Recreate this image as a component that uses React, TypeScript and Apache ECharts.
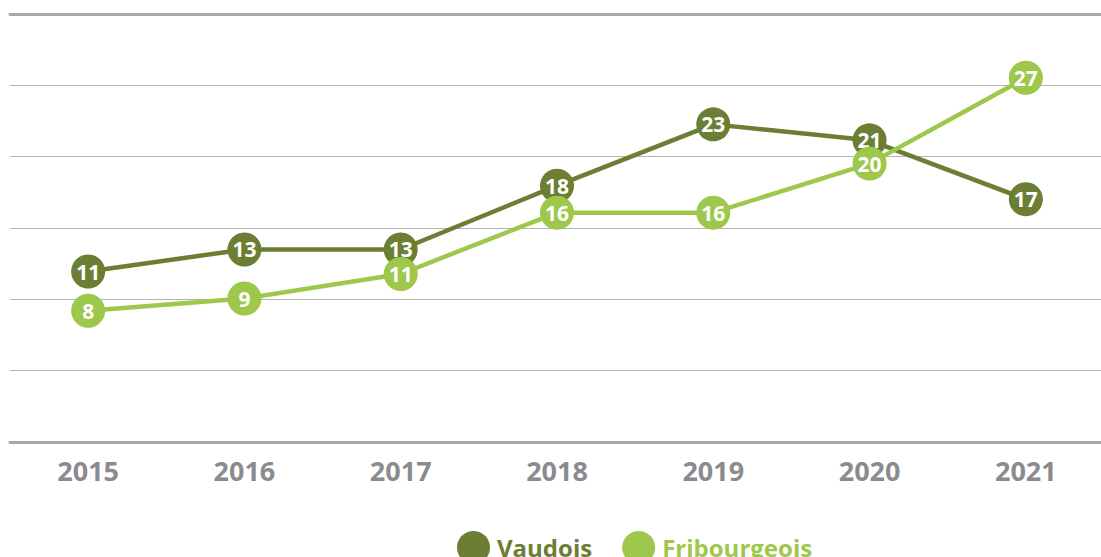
import React, { useEffect, useRef } from "react";
import * as echarts from "echarts";

const years = ["2015", "2016", "2017", "2018", "2019", "2020", "2021"];
const vaudois = [11.2, 13.0, 13.0, 18.2, 23.2, 21.9, 17.1];
const fribourgeois = [8.0, 9.0, 11.0, 16.0, 16.0, 20.0, 27.0];
const gridSteps = [0, 1, 2, 3, 4, 5, 6];

const DARK = "#6b7e33";
const LIGHT = "#9dc84b";
const FONT = "'Open Sans', sans-serif";

export default function App() {
  const ref = useRef<HTMLDivElement>(null);
  useEffect(() => {
    if (!ref.current) return;
    const chart = echarts.init(ref.current, null, { renderer: "svg" });
    const label = {
      show: true,
      position: "inside",
      color: "#ffffff",
      fontSize: 21,
      fontWeight: "bold",
      fontFamily: FONT,
      formatter: (p: any) => String(Math.floor(p.value)),
    };
    chart.setOption({
      animation: false,
      backgroundColor: "#ffffff",
      grid: {
        left: 10,
        width: 1094,
        top: 14,
        bottom: 115,
        containLabel: false,
        outerBoundsMode: "none",
      },
      legend: {
        left: 452,
        top: 526,
        icon: "circle",
        itemWidth: 33,
        itemHeight: 33,
        itemGap: 30,
        textStyle: { fontSize: 24, fontWeight: "bold", fontFamily: FONT, padding: [0, 0, 0, 2] },
        data: [
          { name: "Vaudois", textStyle: { color: DARK } },
          { name: "Fribourgeois", textStyle: { color: LIGHT } },
        ],
      },
      xAxis: [
        {
          type: "category",
          data: years,
          position: "bottom",
          axisLine: { show: true, onZero: false, lineStyle: { color: "#a8a7ab", width: 3 } },
          axisTick: { show: false },
          axisLabel: {
            color: "#8b8a8e",
            fontSize: 27,
            fontWeight: "bold",
            fontFamily: FONT,
            margin: 15,
          },
        },
        {
          type: "category",
          data: years,
          position: "top",
          axisLine: { show: true, onZero: false, lineStyle: { color: "#a8a7ab", width: 3 } },
          axisTick: { show: false },
          axisLabel: { show: false },
        },
      ],
      yAxis: [
        {
          type: "value",
          min: gridSteps[0],
          max: gridSteps[gridSteps.length - 1],
          interval: 1,
          axisLine: { show: false },
          axisTick: { show: false },
          axisLabel: { show: false },
          splitLine: { show: true, lineStyle: { color: "#b3b3b3", width: 1 } },
        },
        {
          type: "value",
          min: -2.7,
          max: 32.2,
          show: false,
          splitLine: { show: false },
        },
      ],
      series: [
        {
          name: "Vaudois",
          type: "line",
          yAxisIndex: 1,
          data: vaudois,
          symbol: "circle",
          symbolSize: 34,
          color: DARK,
          itemStyle: { color: DARK },
          lineStyle: { color: DARK, width: 4.5 },
          label,
          z: 2,
        },
        {
          name: "Fribourgeois",
          type: "line",
          yAxisIndex: 1,
          data: fribourgeois,
          symbol: "circle",
          symbolSize: 34,
          color: LIGHT,
          itemStyle: { color: LIGHT },
          lineStyle: { color: LIGHT, width: 4.5 },
          label,
          z: 3,
        },
      ],
    });
    return () => chart.dispose();
  }, []);
  return (
    <div
      ref={ref}
      style={{ position: "fixed", left: 0, top: 0, width: 1101, height: 557 }}
    />
  );
}
